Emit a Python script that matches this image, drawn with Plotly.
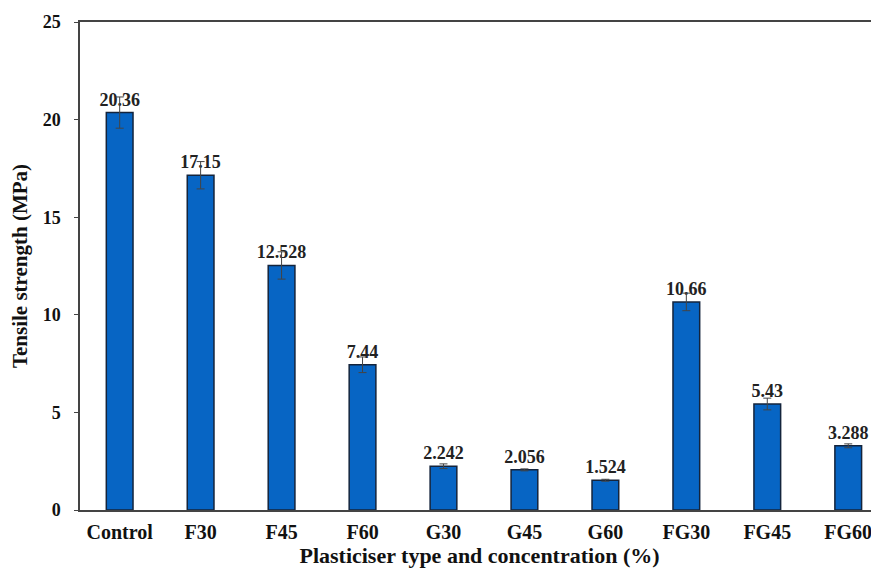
import plotly.graph_objects as go

categories = ["Control", "F30", "F45", "F60", "G30", "G45", "G60", "FG30", "FG45", "FG60"]
values = [20.36, 17.15, 12.528, 7.44, 2.242, 2.056, 1.524, 10.66, 5.43, 3.288]
errors = [0.8, 0.7, 0.7, 0.4, 0.12, 0.05, 0.05, 0.45, 0.3, 0.1]
labels = ["20.36", "17.15", "12.528", "7.44", "2.242", "2.056", "1.524", "10.66", "5.43", "3.288"]
y_ticks = [0, 5, 10, 15, 20, 25]

serif = "Liberation Serif"

fig = go.Figure()
fig.add_trace(go.Bar(
    x=categories,
    y=values,
    width=0.33,
    marker=dict(color="#0765C4", line=dict(color="#14243C", width=1.5)),
    error_y=dict(type="data", array=errors, visible=True, color="#444444", thickness=1, width=4),
    text=labels,
    textposition="outside",
    constraintext="none",
    cliponaxis=False,
    textfont=dict(family=serif, size=18, color="#222222", weight="bold"),
))

fig.update_layout(
    width=871, height=561,
    margin=dict(l=72, r=0, t=14, b=59),
    plot_bgcolor="white", paper_bgcolor="white",
    showlegend=False,
)
fig.update_xaxes(
    range=[-0.49, 9.38], automargin=False,
    showline=True, linecolor="#444444", linewidth=1.5, mirror=True,
    ticks="", showgrid=False,
    ticklabelstandoff=3,
    tickfont=dict(family=serif, size=20, color="#111111", weight="bold"),
    title=dict(text="Plasticiser type and concentration (%)", standoff=5,
               font=dict(family=serif, size=22, color="#111111", weight="bold")),
)
fig.update_yaxes(
    range=[0, 25], tickvals=y_ticks, automargin=False,
    showline=True, linecolor="#444444", linewidth=1.5,
    ticks="outside", ticklen=4, tickcolor="#444444",
    ticklabelstandoff=10,
    showgrid=False, zeroline=False,
    tickfont=dict(family=serif, size=18, color="#111111", weight="bold"),
    title=dict(text="Tensile strength (MPa)", standoff=9,
               font=dict(family=serif, size=21, color="#111111", weight="bold")),
)

fig.write_html("out.html")
